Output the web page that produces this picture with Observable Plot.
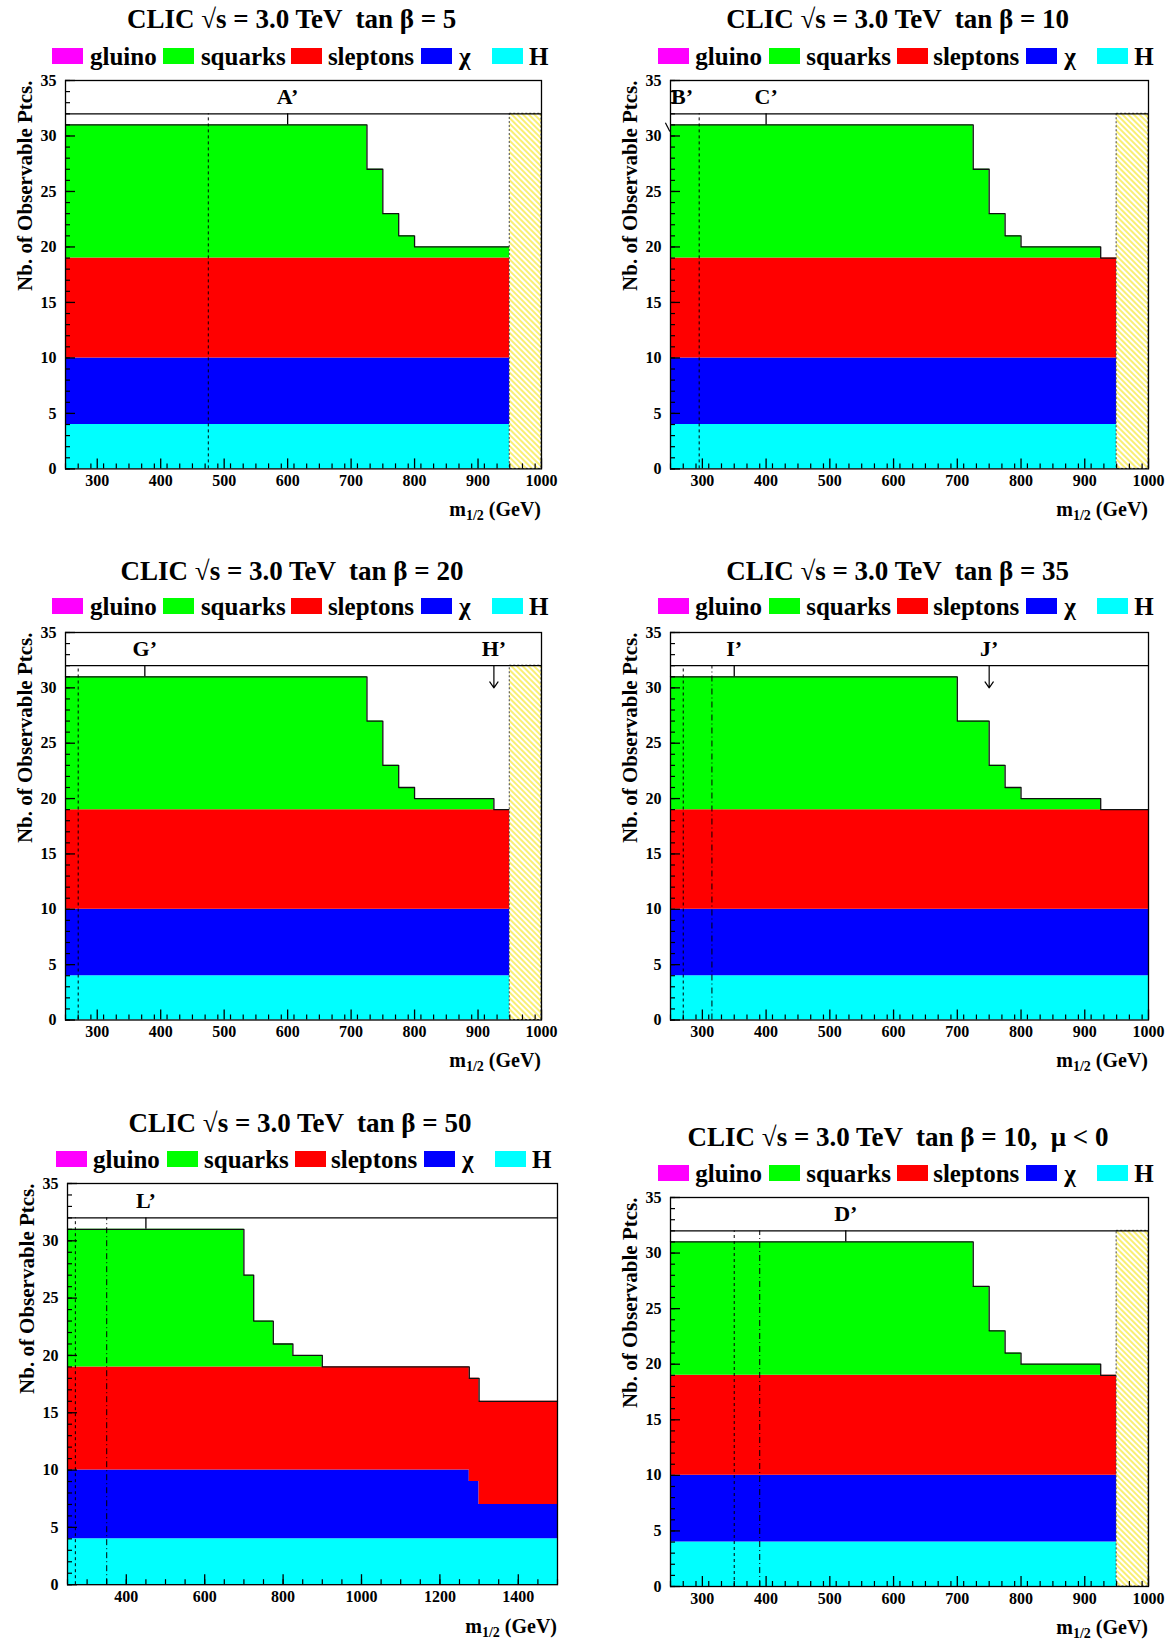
<!DOCTYPE html>
<html><head><meta charset="utf-8">
<script src="https://cdn.jsdelivr.net/npm/d3@7"></script>
<script src="https://cdn.jsdelivr.net/npm/@observablehq/plot@0.6"></script>
<style>
html,body{margin:0;padding:0;background:#fff;overflow:hidden;}
body{width:1173px;height:1642px;position:relative;font-family:"Liberation Serif","Times New Roman",serif;font-weight:bold;color:#000;}
.abs{position:absolute;white-space:pre;line-height:1;}
.title{font-size:27px;transform:translate(-50%,-50%);}
.legtext{font-size:25px;transform:translateY(-50%);}
.legbox{width:31px;height:16px;transform:translateY(-50%);}
.xtitle{font-size:20px;transform:translate(-100%,-50%);}
.xtitle sub{font-size:14px;vertical-align:-4px;}
</style></head><body>
<svg width="0" height="0" style="position:absolute"><defs>
<pattern id="hatch" patternUnits="userSpaceOnUse" width="4" height="4" patternTransform="rotate(-45)">
<rect width="4" height="4" fill="#ffffff"/>
<line x1="1" y1="0" x2="1" y2="4" stroke="#f5e200" stroke-width="1.1"/>
</pattern></defs></svg>
<script>
// ---------------- DATA ----------------
const legendNames = ["gluino", "squarks", "sleptons", "χ", "H"];
const legendColors = ["#ff00ff", "#00ff00", "#ff0000", "#0000ff", "#00ffff"];
// stacking order (bottom -> top)
const layerOrder = ["H", "χ", "sleptons", "squarks", "gluino"];
const layerColors = {"H": "#00ffff", "χ": "#0000ff", "sleptons": "#ff0000", "squarks": "#00ff00", "gluino": "#ff00ff"};

const yTicks = [0, 5, 10, 15, 20, 25, 30, 35];
const xTicks1000 = [300, 400, 500, 600, 700, 800, 900, 1000];
const xTicks1500 = [400, 600, 800, 1000, 1200, 1400];

// tan beta = 5
const tb5Title = "CLIC √s = 3.0 TeV  tan β = 5";
const tb5Edges = [250, 725, 750, 775, 800, 950];
const tb5H = [4, 4, 4, 4, 4];
const tb5Chi = [6, 6, 6, 6, 6];
const tb5Sleptons = [9, 9, 9, 9, 9];
const tb5Squarks = [12, 8, 4, 2, 1];
const tb5Gluino = [0, 0, 0, 0, 0];
const tb5PointNames = ["A’"];
const tb5PointX = [600];
const tb5PointKind = ["tick"];
const tb5Dashed = [475];
const tb5DashDot = [];
const tb5Hatch = [950, 1000];

// tan beta = 10
const tb10Title = "CLIC √s = 3.0 TeV  tan β = 10";
const tb10Edges = [250, 725, 750, 775, 800, 925, 950];
const tb10H = [4, 4, 4, 4, 4, 4];
const tb10Chi = [6, 6, 6, 6, 6, 6];
const tb10Sleptons = [9, 9, 9, 9, 9, 9];
const tb10Squarks = [12, 8, 4, 2, 1, 0];
const tb10Gluino = [0, 0, 0, 0, 0, 0];
const tb10PointNames = ["B’", "C’"];
const tb10PointX = [268, 400];
const tb10PointKind = ["off", "tick"];
const tb10Dashed = [295];
const tb10DashDot = [];
const tb10Hatch = [950, 1000];

// tan beta = 20
const tb20Title = "CLIC √s = 3.0 TeV  tan β = 20";
const tb20Edges = [250, 725, 750, 775, 800, 925, 950];
const tb20H = [4, 4, 4, 4, 4, 4];
const tb20Chi = [6, 6, 6, 6, 6, 6];
const tb20Sleptons = [9, 9, 9, 9, 9, 9];
const tb20Squarks = [12, 8, 4, 2, 1, 0];
const tb20Gluino = [0, 0, 0, 0, 0, 0];
const tb20PointNames = ["G’", "H’"];
const tb20PointX = [375, 925];
const tb20PointKind = ["tick", "arrow"];
const tb20Dashed = [270];
const tb20DashDot = [];
const tb20Hatch = [950, 1000];

// tan beta = 35
const tb35Title = "CLIC √s = 3.0 TeV  tan β = 35";
const tb35Edges = [250, 700, 750, 775, 800, 925, 1000];
const tb35H = [4, 4, 4, 4, 4, 4];
const tb35Chi = [6, 6, 6, 6, 6, 6];
const tb35Sleptons = [9, 9, 9, 9, 9, 9];
const tb35Squarks = [12, 8, 4, 2, 1, 0];
const tb35Gluino = [0, 0, 0, 0, 0, 0];
const tb35PointNames = ["I’", "J’"];
const tb35PointX = [350, 750];
const tb35PointKind = ["tick", "arrow"];
const tb35Dashed = [270];
const tb35DashDot = [315];
const tb35Hatch = [];

// tan beta = 50
const tb50Title = "CLIC √s = 3.0 TeV  tan β = 50";
const tb50Edges = [250, 700, 725, 775, 825, 900, 1275, 1300, 1500];
const tb50H = [4, 4, 4, 4, 4, 4, 4, 4];
const tb50Chi = [6, 6, 6, 6, 6, 6, 5, 3];
const tb50Sleptons = [9, 9, 9, 9, 9, 9, 9, 9];
const tb50Squarks = [12, 8, 4, 2, 1, 0, 0, 0];
const tb50Gluino = [0, 0, 0, 0, 0, 0, 0, 0];
const tb50PointNames = ["L’"];
const tb50PointX = [450];
const tb50PointKind = ["tick"];
const tb50Dashed = [270];
const tb50DashDot = [350];
const tb50Hatch = [];

// tan beta = 10, mu < 0
const tbmTitle = "CLIC √s = 3.0 TeV  tan β = 10,  μ < 0";
const tbmEdges = [250, 725, 750, 775, 800, 925, 950];
const tbmH = [4, 4, 4, 4, 4, 4];
const tbmChi = [6, 6, 6, 6, 6, 6];
const tbmSleptons = [9, 9, 9, 9, 9, 9];
const tbmSquarks = [12, 8, 4, 2, 1, 0];
const tbmGluino = [0, 0, 0, 0, 0, 0];
const tbmPointNames = ["D’"];
const tbmPointX = [525];
const tbmPointKind = ["tick"];
const tbmDashed = [350];
const tbmDashDot = [390];
const tbmHatch = [950, 1000];

const yTitle = "Nb. of Observable Ptcs.";
const bandTop = 32;     // separator of label band
const markerLow = 31;   // benchmark tick bottom
const arrowLow = 30;    // arrow tip
const labelY = 33.5;

// ---------------- PANELS ----------------
const panels = [
  {title: tb5Title, edges: tb5Edges, counts: [tb5H, tb5Chi, tb5Sleptons, tb5Squarks, tb5Gluino], names: tb5PointNames, px: tb5PointX, kind: tb5PointKind, dashed: tb5Dashed, dashdot: tb5DashDot, hatch: tb5Hatch, xdom: [250, 1000], xticks: xTicks1000, minor: 20,
   lay: {L: 65, R: 541, T: 79.6, B: 468, tx: 291.7, ty: 19, lx: 52.4, ly: 55.5}},
  {title: tb10Title, edges: tb10Edges, counts: [tb10H, tb10Chi, tb10Sleptons, tb10Squarks, tb10Gluino], names: tb10PointNames, px: tb10PointX, kind: tb10PointKind, dashed: tb10Dashed, dashdot: tb10DashDot, hatch: tb10Hatch, xdom: [250, 1000], xticks: xTicks1000, minor: 20,
   lay: {L: 670, R: 1148, T: 79.6, B: 468, tx: 897.6, ty: 19, lx: 657.7, ly: 55.5}},
  {title: tb20Title, edges: tb20Edges, counts: [tb20H, tb20Chi, tb20Sleptons, tb20Squarks, tb20Gluino], names: tb20PointNames, px: tb20PointX, kind: tb20PointKind, dashed: tb20Dashed, dashdot: tb20DashDot, hatch: tb20Hatch, xdom: [250, 1000], xticks: xTicks1000, minor: 20,
   lay: {L: 65, R: 541, T: 631.5, B: 1019, tx: 292, ty: 571, lx: 52.4, ly: 606.4}},
  {title: tb35Title, edges: tb35Edges, counts: [tb35H, tb35Chi, tb35Sleptons, tb35Squarks, tb35Gluino], names: tb35PointNames, px: tb35PointX, kind: tb35PointKind, dashed: tb35Dashed, dashdot: tb35DashDot, hatch: tb35Hatch, xdom: [250, 1000], xticks: xTicks1000, minor: 20,
   lay: {L: 670, R: 1148, T: 631.5, B: 1019, tx: 897.6, ty: 571, lx: 657.7, ly: 606.4}},
  {title: tb50Title, edges: tb50Edges, counts: [tb50H, tb50Chi, tb50Sleptons, tb50Squarks, tb50Gluino], names: tb50PointNames, px: tb50PointX, kind: tb50PointKind, dashed: tb50Dashed, dashdot: tb50DashDot, hatch: tb50Hatch, xdom: [250, 1500], xticks: xTicks1500, minor: 50,
   lay: {L: 67, R: 557, T: 1183.4, B: 1584.6, tx: 300, ty: 1122.7, lx: 55.5, ly: 1159}},
  {title: tbmTitle, edges: tbmEdges, counts: [tbmH, tbmChi, tbmSleptons, tbmSquarks, tbmGluino], names: tbmPointNames, px: tbmPointX, kind: tbmPointKind, dashed: tbmDashed, dashdot: tbmDashDot, hatch: tbmHatch, xdom: [250, 1000], xticks: xTicks1000, minor: 20,
   lay: {L: 670, R: 1148, T: 1197, B: 1586, tx: 898, ty: 1137.4, lx: 657.7, ly: 1173}}
];

const legendBoxOff = [0, 111, 239, 368.6, 439.5];
const legendTextOff = [37.6, 148.5, 275.5, 406.5, 476.5];

function addDiv(cls, left, top, html, extra) {
  const d = document.createElement("div");
  d.className = "abs " + cls;
  d.style.left = left + "px";
  d.style.top = top + "px";
  if (html != null) d.innerHTML = html;
  if (extra) Object.assign(d.style, extra);
  document.body.appendChild(d);
  return d;
}

function drawPanel(p) {
  const {L, R, T, B} = p.lay;
  const mT = 12, mB = 32, mL = 65, mR = 25;
  const fw = R - L, fh = B - T;

  // stacked layers
  const nb = p.edges.length - 1;
  let base = new Array(nb).fill(0);
  const rows = [];
  p.counts.forEach((cnt, k) => {
    const name = layerOrder[k];
    if (cnt.every(v => v === 0)) { return; }
    for (let i = 0; i <= nb; i++) {
      const j = Math.min(i, nb - 1);
      rows.push({x: p.edges[i], y1: base[j], y2: base[j] + cnt[j], layer: name});
    }
    base = base.map((b, i) => b + cnt[i]);
  });
  const top = p.edges.map((x, i) => ({x, y: base[Math.min(i, nb - 1)]}));

  const pts = p.names.map((n, i) => ({name: n, x: p.px[i], kind: p.kind[i]}));
  const minorX = d3.range(p.xdom[0], p.xdom[1] + 0.1, p.minor);
  const minorY = d3.range(0, 35.1, 1);

  const marks = [
    Plot.areaY(rows, {x: "x", y1: "y1", y2: "y2", z: "layer", fill: d => layerColors[d.layer], curve: "step-after"}),
    Plot.lineY(top, {x: "x", y: "y", curve: "step-after", stroke: "#111", strokeWidth: 1.3}),
  ];
  if (p.hatch.length) {
    marks.push(Plot.rect([p.hatch], {x1: d => d[0], x2: d => d[1], y1: 0, y2: bandTop, fill: "url(#hatch)", stroke: "#444", strokeWidth: 1, strokeDasharray: "2,2"}));
  }
  marks.push(
    Plot.ruleY([bandTop], {stroke: "#000", strokeWidth: 1.3}),
    Plot.ruleX(p.dashed, {x: d => d, y1: 0, y2: bandTop, stroke: "#000", strokeWidth: 1, strokeDasharray: "3,3"}),
    Plot.ruleX(p.dashdot, {x: d => d, y1: 0, y2: bandTop, stroke: "#000", strokeWidth: 1, strokeDasharray: "6,3,1,3"}),
    Plot.ruleX(pts.filter(d => d.kind === "tick"), {x: "x", y1: markerLow, y2: bandTop, stroke: "#000", strokeWidth: 1.3}),
    Plot.arrow(pts.filter(d => d.kind === "arrow"), {x1: "x", x2: "x", y1: bandTop, y2: arrowLow, stroke: "#000", strokeWidth: 1.2, headLength: 9, headAngle: 70}),
    Plot.link(pts.filter(d => d.kind === "off"), {x1: d => p.xdom[0] - 8, y1: 31.2, x2: d => p.xdom[0] - 1, y2: 30.4, stroke: "#000", strokeWidth: 1.2}),
    Plot.text(pts, {x: "x", y: labelY, text: "name", fontSize: 22, fontWeight: "bold", fill: "#000"}),
    // inward ticks
    Plot.tickY(minorY, {y: d => d, insetRight: fw - 5, stroke: "#000", strokeWidth: 1.2}),
    Plot.tickY(yTicks, {y: d => d, insetRight: fw - 10, stroke: "#000", strokeWidth: 1.3}),
    Plot.tickX(minorX, {x: d => d, insetTop: fh - 5, stroke: "#000", strokeWidth: 1.2}),
    Plot.tickX(p.xticks, {x: d => d, insetTop: fh - 10, stroke: "#000", strokeWidth: 1.3}),
    Plot.axisY(yTicks, {tickSize: 0, tickPadding: 9, fontSize: 16, label: null, tickFormat: d => String(d)}),
    Plot.axisX(p.xticks, {tickSize: 0, tickPadding: 6, fontSize: 16, label: null, tickFormat: d => String(d)}),
    Plot.frame({stroke: "#000", strokeWidth: 1.3}),
    Plot.text([yTitle], {frameAnchor: "top-left", text: d => d, rotate: -90, textAnchor: "end", dx: -48, fontSize: 21, fontWeight: "bold", fill: "#000"})
  );

  const svg = Plot.plot({
    width: mL + fw + mR,
    height: mT + fh + mB,
    marginTop: mT, marginBottom: mB, marginLeft: mL, marginRight: mR,
    x: {domain: p.xdom},
    y: {domain: [0, 35]},
    style: {fontFamily: "'Liberation Serif','Times New Roman',serif", fontWeight: "bold", fontSize: "16px", color: "#000", background: "transparent", overflow: "visible"},
    marks
  });
  svg.style.position = "absolute";
  svg.style.left = (L - mL) + "px";
  svg.style.top = (T - mT) + "px";
  document.body.appendChild(svg);

  // title
  addDiv("title", p.lay.tx, p.lay.ty, null).textContent = p.title;
  // legend
  legendNames.forEach((n, i) => {
    addDiv("legbox", p.lay.lx + legendBoxOff[i], p.lay.ly, null, {background: legendColors[i]});
    addDiv("legtext", p.lay.lx + legendTextOff[i], p.lay.ly, null).textContent = n;
  });
  // x title
  addDiv("xtitle", R, B + 43, "m<sub>1/2</sub> (GeV)");
}

panels.forEach(drawPanel);
</script>
</body></html>
